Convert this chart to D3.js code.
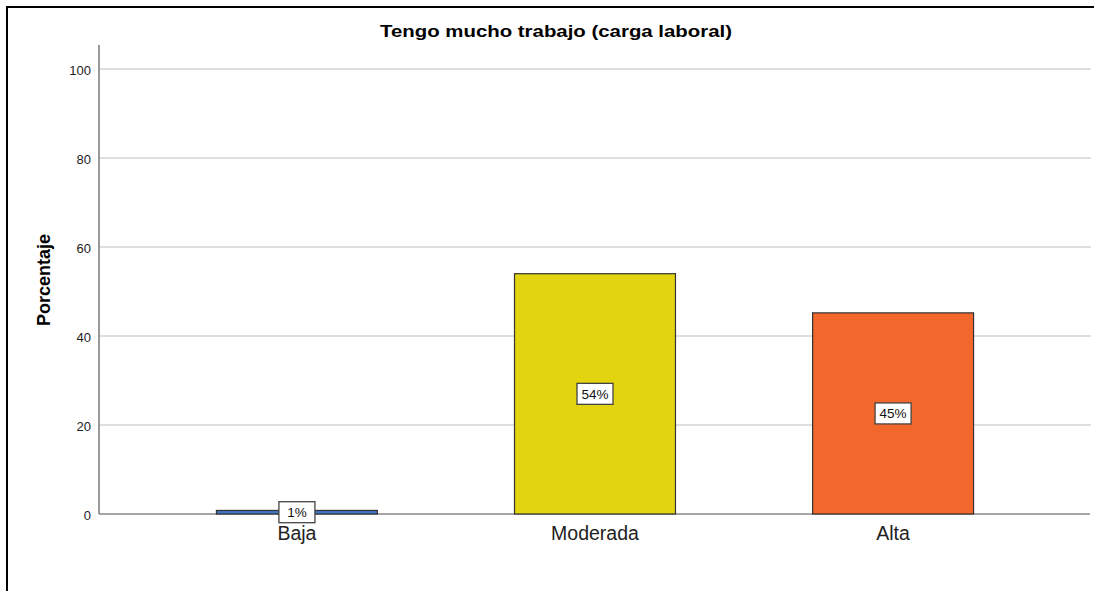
<!DOCTYPE html>
<html>
<head>
<meta charset="utf-8">
<script src="https://cdn.jsdelivr.net/npm/d3@7"></script>
<style>
  html, body { margin: 0; padding: 0; background: #fff; }
  svg { display: block; font-family: "Liberation Sans", Arial, sans-serif; }
</style>
</head>
<body>
<svg id="chart" width="1094" height="591"></svg>
<script>
// Responses to "Tengo mucho trabajo (carga laboral)"
const categories = ["Baja", "Moderada", "Alta"];
const percentages = [0.8, 54.0, 45.2];
const barColors = ["#3f73c4", "#e2d50f", "#f2672b"];
const yTicks = [0, 20, 40, 60, 80, 100];

const svg = d3.select("#chart");
const W = 1094, H = 591;
const plot = { left: 99, right: 1091, top: 45, bottom: 514 };

// Outer frame (left and top edges visible)
svg.append("path")
  .attr("d", `M7,${H} V7 H${W}`)
  .attr("fill", "none")
  .attr("stroke", "#000")
  .attr("stroke-width", 2);

const y = d3.scaleLinear().domain([0, 100]).range([514, 69]);
const x = d3.scalePoint().domain(categories).range([plot.left, plot.right]).padding(0.664);
const barWidth = x.step() * 0.54;

// Horizontal gridlines
svg.append("g")
  .selectAll("line")
  .data(yTicks.filter(d => d > 0))
  .join("line")
  .attr("x1", plot.left).attr("x2", plot.right)
  .attr("y1", d => y(d)).attr("y2", d => y(d))
  .attr("stroke", "#d3d3d3")
  .attr("stroke-width", 1.5);

// Y axis
const yAxis = svg.append("g")
  .attr("transform", `translate(${plot.left},0)`)
  .call(d3.axisLeft(y).tickValues(yTicks).tickSize(0).tickPadding(8));
yAxis.select(".domain").remove();
yAxis.selectAll("text")
  .attr("font-size", 13)
  .attr("dy", "0.45em")
  .attr("fill", "#222")
  .attr("font-family", "'Liberation Sans', Arial, sans-serif");
svg.append("line")
  .attr("x1", plot.left).attr("x2", plot.left)
  .attr("y1", plot.top).attr("y2", plot.bottom)
  .attr("stroke", "#999").attr("stroke-width", 2);

// Baseline
svg.append("line")
  .attr("x1", plot.left).attr("x2", plot.right - 1)
  .attr("y1", y(0)).attr("y2", y(0))
  .attr("stroke", "#888").attr("stroke-width", 1.5);

// Bars
svg.append("g")
  .selectAll("rect")
  .data(categories)
  .join("rect")
  .attr("x", (d) => x(d) - barWidth / 2)
  .attr("y", (d, i) => y(percentages[i]))
  .attr("width", barWidth)
  .attr("height", (d, i) => y(0) - y(percentages[i]))
  .attr("fill", (d, i) => barColors[i])
  .attr("stroke", "#333")
  .attr("stroke-width", 1.2);

// Value labels in boxes at bar mid-height
const labels = svg.append("g")
  .selectAll("g")
  .data(categories)
  .join("g")
  .attr("transform", (d, i) => `translate(${x(d)},${(y(0) + y(percentages[i])) / 2})`);
labels.append("rect")
  .attr("x", -18).attr("y", -10.5)
  .attr("width", 36).attr("height", 21)
  .attr("fill", "#fff")
  .attr("stroke", "#444")
  .attr("stroke-width", 1.3);
labels.append("text")
  .attr("text-anchor", "middle")
  .attr("dy", "0.36em")
  .attr("font-size", 13.5)
  .attr("fill", "#111")
  .text((d, i) => Math.round(percentages[i]) + "%");

// Category labels
svg.append("g")
  .selectAll("text")
  .data(categories)
  .join("text")
  .attr("x", d => x(d))
  .attr("y", 540)
  .attr("text-anchor", "middle")
  .attr("font-size", 19.5)
  .attr("fill", "#222")
  .text(d => d);

// Title
svg.append("text")
  .attr("x", 556).attr("y", 37)
  .attr("text-anchor", "middle")
  .attr("font-size", 16.5)
  .attr("font-weight", "bold")
  .attr("fill", "#000")
  .attr("textLength", 352)
  .attr("lengthAdjust", "spacingAndGlyphs")
  .text("Tengo mucho trabajo (carga laboral)");

// Y axis title
svg.append("text")
  .attr("transform", "translate(50,280) rotate(-90)")
  .attr("text-anchor", "middle")
  .attr("font-size", 18)
  .attr("font-weight", "bold")
  .attr("fill", "#000")
  .text("Porcentaje");
</script>
</body>
</html>
